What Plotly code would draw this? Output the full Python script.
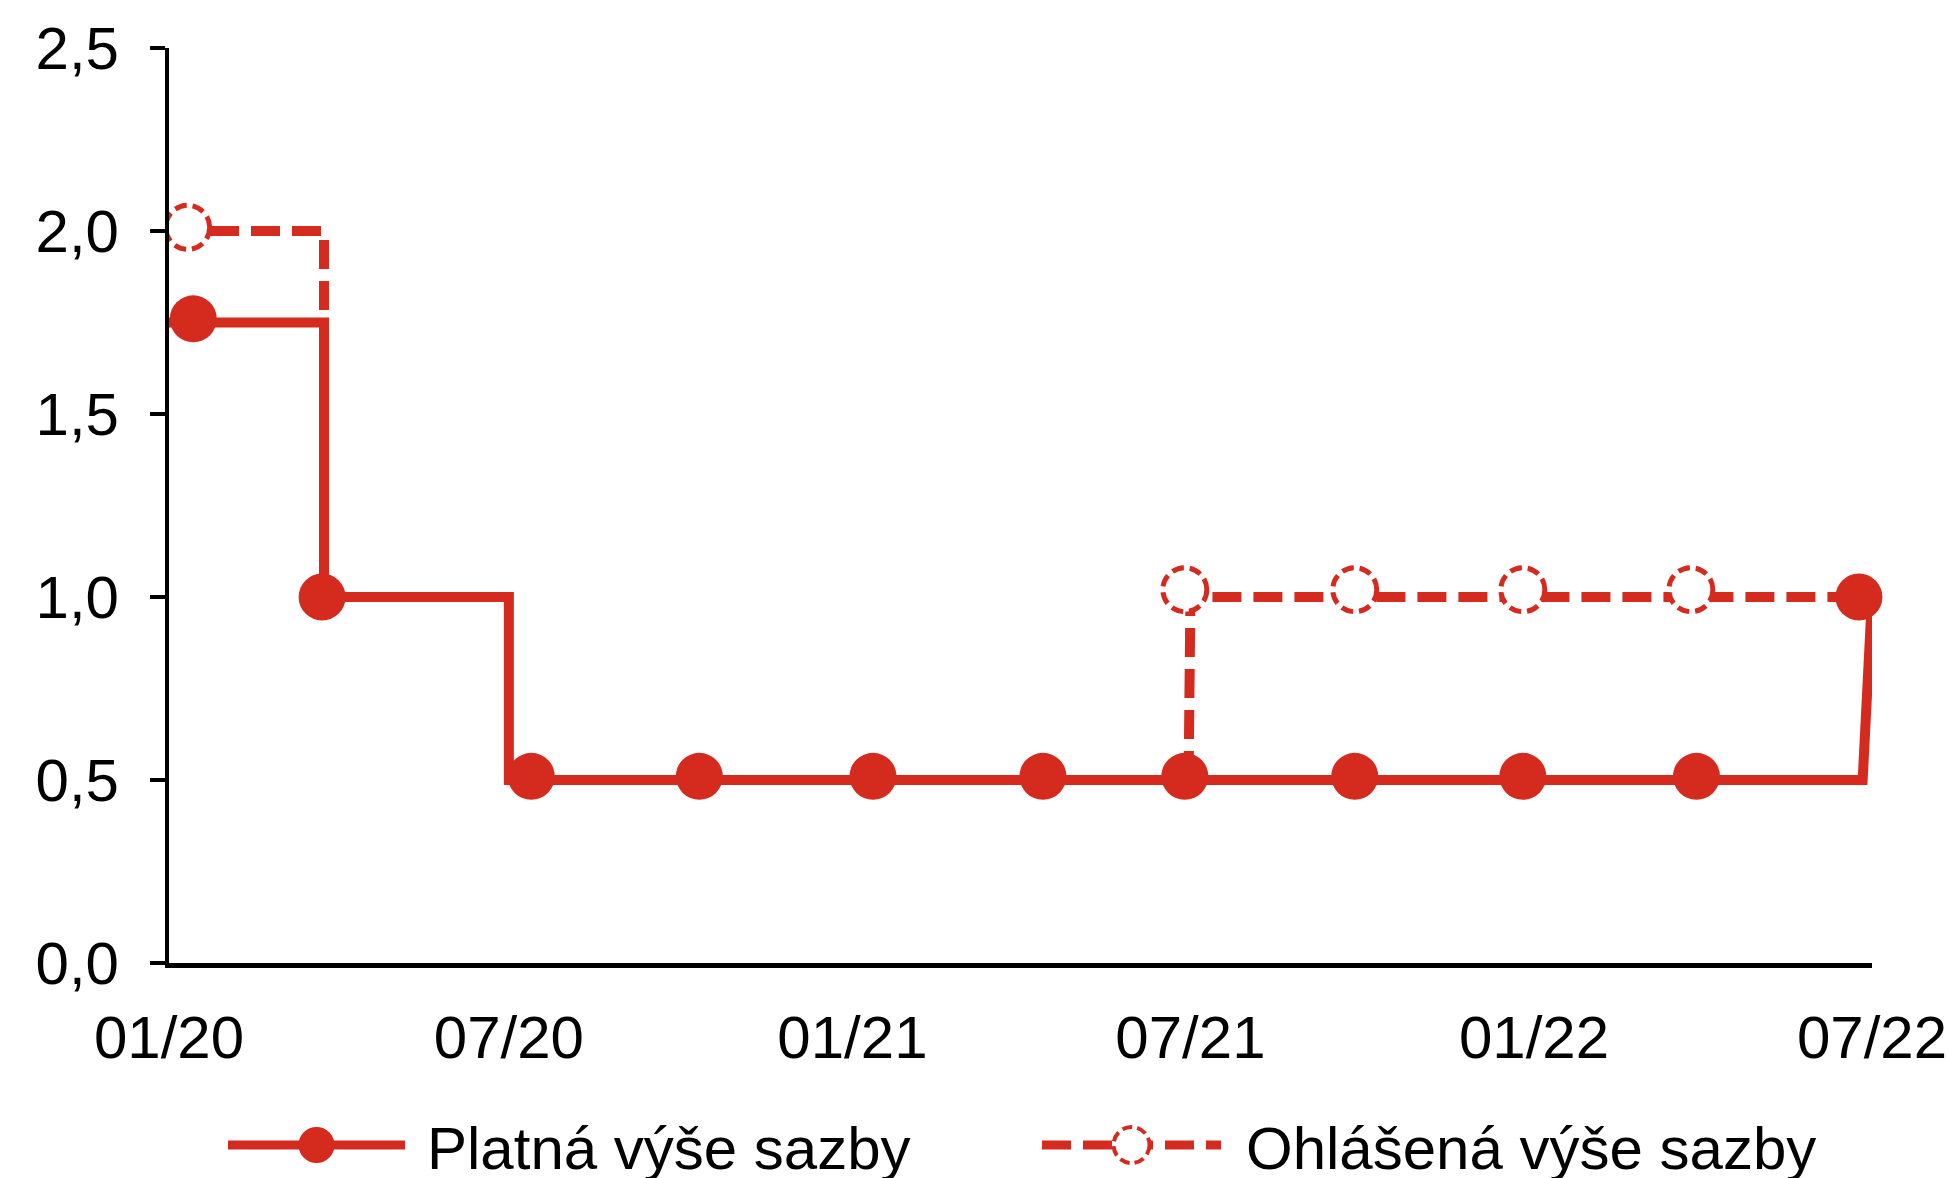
import plotly.graph_objects as go

# ---- data -------------------------------------------------------------
# Effective countercyclical buffer rate (step path and point markers)
eff_line_dates = ["2020-01-01", "2020-03-24", "2020-03-24", "2020-07-01",
                  "2020-07-01", "2022-06-26", "2022-07-01"]
eff_line_rate = [1.75, 1.75, 1.0, 1.0, 0.5, 0.5, 1.0]
eff_point_dates = ["2020-01-14", "2020-03-23", "2020-07-13", "2020-10-11",
                   "2021-01-12", "2021-04-13", "2021-06-28", "2021-09-27",
                   "2021-12-26", "2022-03-29", "2022-06-24"]
eff_point_rate = [1.76, 1.0, 0.51, 0.51, 0.51, 0.51, 0.51, 0.51, 0.51, 0.51, 1.0]

# Announced rate (dashed path and open markers)
ann_line_dates = ["2020-01-01", "2020-03-24", "2020-03-24", None,
                  "2021-06-30", "2021-07-01", "2022-07-01"]
ann_line_rate = [2.0, 2.0, 1.75, None, 0.5, 1.0, 1.0]
ann_point_dates = ["2020-01-11", "2021-06-28", "2021-09-27", "2021-12-26", "2022-03-26"]
ann_point_rate = [2.01, 1.02, 1.02, 1.02, 1.02]

series_names = ["Platná výše sazby", "Ohlášená výše sazby"]

x_tick_vals = ["2020-01-01", "2020-07-01", "2021-01-01", "2021-07-01",
               "2022-01-01", "2022-07-01"]
x_tick_text = ["01/20", "07/20", "01/21", "07/21", "01/22", "07/22"]
y_tick_vals = [0.0, 0.5, 1.0, 1.5, 2.0, 2.5]

# ---- styling ----------------------------------------------------------
RED = "#D52B1E"
FONT = "Liberation Sans, Arial, sans-serif"
LINE_W = 10
DASH = "29px,12px"
MARKER_D = 47
OPEN_D = 44

fig = go.Figure()

# announced rate path (dashed)
fig.add_trace(go.Scatter(
    x=ann_line_dates, y=ann_line_rate, mode="lines",
    line=dict(color=RED, width=LINE_W, dash=DASH),
    connectgaps=False, showlegend=False, hoverinfo="skip",
))

# effective rate path (solid)
fig.add_trace(go.Scatter(
    x=eff_line_dates, y=eff_line_rate, mode="lines",
    line=dict(color=RED, width=LINE_W),
    showlegend=False, hoverinfo="skip",
))

# effective rate markers
fig.add_trace(go.Scatter(
    x=eff_point_dates, y=eff_point_rate, mode="markers",
    marker=dict(color=RED, size=MARKER_D, line=dict(width=0)),
    cliponaxis=False, showlegend=False, name=series_names[0],
))

# announced rate markers: white-filled circles with dashed outline
shapes = []
for d, v in zip(ann_point_dates, ann_point_rate):
    r = OPEN_D / 2
    shapes.append(dict(
        type="circle", xref="x", yref="y",
        xsizemode="pixel", ysizemode="pixel",
        xanchor=d, yanchor=v,
        x0=-r, x1=r, y0=-r, y1=r,
        line=dict(color=RED, width=5, dash="12px,6px"),
        fillcolor="white", layer="above",
    ))

# ---- legend drawn below the plot -------------------------------------
PLOT_L, PLOT_R, PLOT_T, PLOT_B = 169, 76, 48, 215
W, H = 1948, 1178
plot_w = W - PLOT_L - PLOT_R
plot_h = H - PLOT_T - PLOT_B


def px_to_paper_x(px):
    return (px - PLOT_L) / plot_w


def px_to_paper_y(py):
    return (H - PLOT_B - py) / plot_h


legend_y = px_to_paper_y(1145)
legend_items = [
    dict(x0=228, x1=405, dash="solid", filled=True, text_x=425),
    dict(x0=1042, x1=1221, dash=DASH, filled=False, text_x=1244),
]
annotations = []
for name, item in zip(series_names, legend_items):
    shapes.append(dict(
        type="line", xref="paper", yref="paper",
        x0=px_to_paper_x(item["x0"]), x1=px_to_paper_x(item["x1"]),
        y0=legend_y, y1=legend_y,
        line=dict(color=RED, width=9, dash=item["dash"]),
    ))
    cx = px_to_paper_x((item["x0"] + item["x1"]) / 2)
    r = 18
    shapes.append(dict(
        type="circle", xref="paper", yref="paper",
        xsizemode="pixel", ysizemode="pixel",
        xanchor=cx, yanchor=legend_y,
        x0=-r, x1=r, y0=-r, y1=r,
        line=dict(color=RED, width=0 if item["filled"] else 4,
                  dash="solid" if item["filled"] else "10px,5px"),
        fillcolor=RED if item["filled"] else "white",
    ))
    annotations.append(dict(
        text=name, xref="paper", yref="paper",
        x=px_to_paper_x(item["text_x"]), y=px_to_paper_y(1148),
        xanchor="left", yanchor="middle", showarrow=False,
        font=dict(family=FONT, size=60, color="black"),
    ))

fig.update_layout(
    width=W, height=H,
    margin=dict(l=PLOT_L, r=PLOT_R, t=PLOT_T, b=PLOT_B, pad=0),
    paper_bgcolor="white", plot_bgcolor="white",
    font=dict(family=FONT, size=60, color="black"),
    separators=", ",
    shapes=shapes, annotations=annotations,
    showlegend=False,
)

fig.update_xaxes(
    type="date", range=["2020-01-01", "2022-07-01"],
    tickvals=x_tick_vals, ticktext=x_tick_text,
    ticks="", showgrid=False, zeroline=False,
    showline=True, linecolor="black", linewidth=5,
    ticklabelstandoff=18, automargin=False,
    tickfont=dict(family=FONT, size=60, color="black"),
)
fig.update_yaxes(
    range=[0, 2.5], tickvals=y_tick_vals, tickformat=".1f",
    ticks="outside", ticklen=15, tickwidth=4, tickcolor="black",
    showgrid=False, zeroline=False,
    showline=True, linecolor="black", linewidth=4,
    ticklabelstandoff=19, automargin=False,
    tickfont=dict(family=FONT, size=60, color="black"),
)

fig.write_html("out.html")
